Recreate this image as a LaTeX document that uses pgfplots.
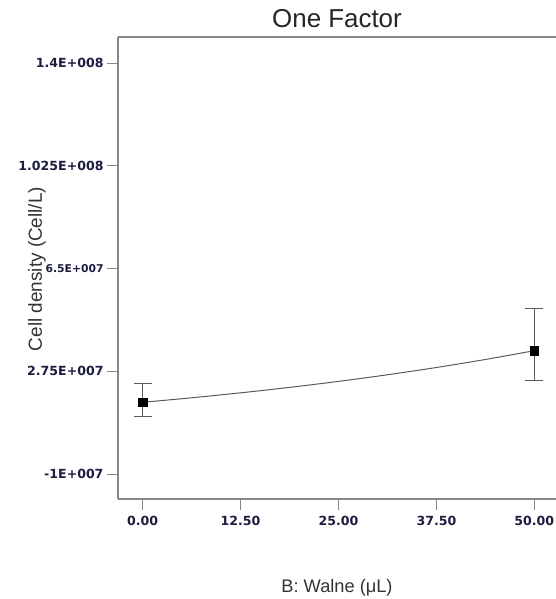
\documentclass[border=0pt]{standalone}
\usepackage{fontspec}
\setmainfont{Liberation Sans}
\newfontfamily\tickfam{DejaVu Sans}
\usepackage{pgfplots}
\pgfplotsset{compat=1.18}
\definecolor{axgray}{RGB}{135,135,135}
\definecolor{linegray}{RGB}{90,90,90}
\definecolor{ticknavy}{RGB}{28,28,64}
\newcommand{\tk}[1]{\hbox{\tickfam\bfseries\fontsize{12.6}{14}\selectfont #1}}
\newcommand{\tks}[1]{\hbox{\tickfam\bfseries\fontsize{10.8}{12}\selectfont #1}}
\begin{document}
\begin{tikzpicture}
\begin{axis}[
  name=ax,
  scale only axis,
  width=438bp, height=462bp,
  xmin=-3.15, xmax=52.77,
  ymin=-1.912e7, ymax=1.496e8,
  axis x line*=bottom, axis y line*=left,
  axis line style={-, draw=axgray, line width=1.1pt},
  tick style={draw=axgray, line width=1pt},
  tick align=outside,
  major tick length=11bp,
  xtick={0,12.5,25,37.5,50},
  xticklabels={\tk{0.00},\tk{12.50},\tk{25.00},\tk{37.50},\tk{50.00}},
  ytick={-1e7,2.75e7,6.5e7,1.025e8,1.4e8},
  yticklabels={\tk{-1E+007},\tk{2.75E+007},\tks{6.5E+007},\tk{1.025E+008},\tk{1.4E+008}},
  xticklabel style={text=ticknavy, yshift=-3bp},
  yticklabel style={text=ticknavy},
  scaled y ticks=false,
  title={One Factor},
  title style={at={(0.5,1)}, anchor=base, yshift=4bp, font=\fontsize{26}{30}\selectfont, text=black!85},
  xlabel={B: Walne (μL)},
  xlabel style={at={(0.5,0)}, anchor=base, yshift=-93bp, font=\fontsize{18.3}{22}\selectfont, text=black!80},
  ylabel={Cell density (Cell/L)},
  ylabel style={at={(0,0.5)}, anchor=center, yshift=81bp, xshift=-1bp, font=\fontsize{19}{22}\selectfont, text=black!80},
  clip=false,
]
\addplot[linegray, line width=1pt, smooth] coordinates {
  (0,1.620e7) (6.25,1.784e7) (12.5,1.965e7) (18.75,2.164e7) (25,2.383e7)
  (31.25,2.625e7) (37.5,2.890e7) (43.75,3.183e7) (50,3.505e7)
};
\addplot[only marks, mark=square*, mark size=4.2bp, mark options={black, fill=black},
  error bars/.cd, y dir=both, y explicit,
  error bar style={linegray, line width=1pt},
  error mark options={linegray, line width=1pt, mark size=9bp, rotate=90}]
  coordinates {
  (0,1.620e7) += (0,0.682e7) -= (0,0.536e7)
  (50,3.505e7) += (0,1.558e7) -= (0,1.095e7)
};
\draw[axgray, line width=1.1pt] (rel axis cs:0,1) -- (rel axis cs:1,1);
\end{axis}
\pgfresetboundingbox
\path[use as bounding box] ([xshift=-118bp,yshift=-100bp]ax.south west) rectangle ([yshift=37bp]ax.north east);
\end{tikzpicture}
\end{document}
